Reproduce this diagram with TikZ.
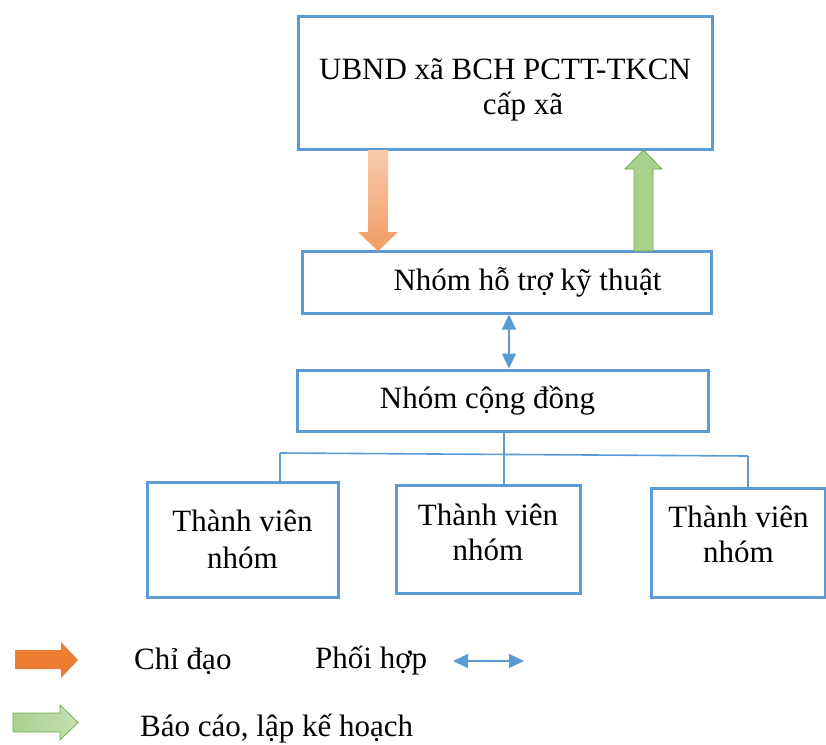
\documentclass[tikz,border=0pt]{standalone}
\usepackage{fontspec}
\setmainfont{Liberation Serif}
\usetikzlibrary{arrows.meta}
\definecolor{boxblue}{HTML}{5B9BD5}
\definecolor{orangeD}{HTML}{ED7D31}
\definecolor{orangeL}{HTML}{F8CBAD}
\definecolor{greenD}{HTML}{70AD47}
\definecolor{greenL}{HTML}{C5E0B4}
\definecolor{greenM}{HTML}{A9D18E}
\newcommand{\shiftup}[2]{\raisebox{#1}[\height][\depth]{#2}}
\tikzset{
  box/.style={draw=boxblue, line width=3pt, fill=white, inner sep=0pt, align=center,
    font=\fontsize{31}{35}\selectfont},
  tree/.style={draw=boxblue, line width=1.6pt},
  coord/.style={draw=boxblue, line width=1.4pt, {Triangle[length=15pt,width=14pt]}-{Triangle[length=15pt,width=14pt]}},
  legtext/.style={anchor=west, inner sep=0pt, font=\fontsize{31}{35}\selectfont},
}
\begin{document}
\begin{tikzpicture}[x=1pt,y=-1pt]
\useasboundingbox (0,0) rectangle (826,744);
% boxes
\node[box, minimum width=414pt, minimum height=133pt] (top) at (505,82.5)
  {\shiftup{-7pt}{\parbox{400pt}{\centering UBND xã BCH PCTT-TKCN\\\hspace*{36pt}cấp xã}}};
\node[box, minimum width=409pt, minimum height=62pt] (tech) at (506.5,282)
  {\hspace*{42pt}Nhóm hỗ trợ kỹ thuật};
\node[box, minimum width=411pt, minimum height=61pt] (comm) at (502.5,400.5)
  {Nhóm cộng đồng\hspace*{30pt}};
\node[box, minimum width=191pt, minimum height=115pt] (m1) at (242.5,539.5)
  {\parbox{180pt}{\centering\fontsize{31}{37}\selectfont Thành viên\\nhóm}};
\node[box, minimum width=184pt, minimum height=108pt] (m2) at (488,539)
  {\shiftup{7pt}{\parbox{170pt}{\centering Thành viên\\nhóm}}};
\node[box, minimum width=174pt, minimum height=109pt] (m3) at (738.5,542.5)
  {\shiftup{8pt}{\parbox{170pt}{\centering Thành viên\\nhóm}}};
% tree connectors
\coordinate (hl) at (280,453);
\coordinate (hr) at (748,456);
\coordinate (hm) at (504,454.5);
\draw[tree] (comm.south -| hm) -- (hm |- m2.north);
\draw[tree] (hl) -- (hr);
\draw[tree] (hl) -- (hl |- m1.north);
\draw[tree] (hr) -- (hr |- m3.north);
% coordination arrow
\coordinate (cx) at (509,0);
\draw[coord] (tech.south -| cx) -- (comm.north -| cx);
% orange directive arrow (top -> tech)
\shade[top color=orangeL, bottom color=orangeD!60!orangeL]
  (368,150) -- (388,150) -- (388,232) -- (398,232) -- (378,251) -- (358,232) -- (368,232) -- cycle;
% green report arrow (tech -> top)
\shade[top color=greenM, bottom color=greenM, draw=greenD, line width=0.8pt]
  (634,251) -- (653,251) -- (653,169) -- (662,169) -- (643.5,150) -- (625,169) -- (634,169) -- cycle;
% legend
\fill[orangeD] (15,650) -- (61,650) -- (61,642) -- (78,660) -- (61,678) -- (61,669) -- (15,669) -- cycle;
\shade[left color=greenM, right color=greenL, draw=greenD, line width=0.8pt]
  (13,713) -- (60,713) -- (60,705) -- (78,722.5) -- (60,740) -- (60,732) -- (13,732) -- cycle;
\node[legtext] (l1) at (134,661) {Chỉ đạo};
\node[legtext] (l2) at (315,661) {Phối hợp};
\coordinate (la) at (453,661);
\coordinate (lb) at (524,661);
\draw[coord] (la) -- (lb);
\node[legtext] (l3) at (140,729) {Báo cáo, lập kế hoạch};
\end{tikzpicture}
\end{document}
